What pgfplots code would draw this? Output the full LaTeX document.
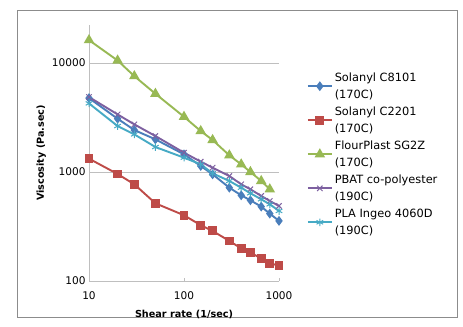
\documentclass[border=0pt]{standalone}
\usepackage{pgfplots}
\pgfplotsset{compat=1.18}
\usepackage{fontspec}
\setmainfont{DejaVu Sans}
\definecolor{cblue}{HTML}{4A7EBB}
\definecolor{cred}{HTML}{BE4B48}
\definecolor{cgreen}{HTML}{98B954}
\definecolor{cpurple}{HTML}{7D60A0}
\definecolor{ccyan}{HTML}{46AAC5}
\definecolor{cgrid}{HTML}{BFBFBF}
\begin{document}
\begin{tikzpicture}
\path[fill=white] (0,0) rectangle (463bp,327bp);
\draw[color=black!45, line width=0.6bp] (17bp,10bp) rectangle (457bp,317bp);
\begin{axis}[
  at={(89bp,46bp)}, anchor=south west,
  scale only axis, width=190bp, height=256bp,
  xmode=log, ymode=log,
  xmin=10, xmax=1000, ymin=100, ymax=22300,
  xtick={10,100,1000}, ytick={100,1000,10000},
  log ticks with fixed point,
  /pgf/number format/1000 sep={},
  /pgf/number format/assume math mode=true,
  minor tick style={draw=none},
  separate axis lines,
  axis x line*=bottom, axis y line*=left,
  axis line style={color=cgrid, line width=0.8bp},
  major tick length=3bp,
  tick style={color=cgrid, line width=0.8bp},
  ymajorgrids,
  major grid style={color=cgrid, line width=0.8bp},
  tick label style={font=\fontsize{10.6}{12}\selectfont},
  xticklabel style={yshift=-7bp},
  xlabel={\textbf{Shear rate (1/sec)}},
  ylabel={\textbf{Viscosity (Pa.sec)}},
  label style={font=\fontsize{9.7}{11}\selectfont},
  xlabel style={yshift=-4bp},
  ylabel style={yshift=-1bp},
  clip=false,
  legend style={draw=none, fill=none, at={(1.13,0.83)}, anchor=north west,
    font=\fontsize{11.4}{17}\selectfont, row sep=3bp,
    cells={anchor=west, align=left}},
  legend image code/.code={\draw[mark repeat=2,mark phase=2] plot coordinates {(0bp,0bp) (12bp,0bp) (24bp,0bp)};},
  every axis plot/.append style={line width=1.9bp},
]
\addplot[color=cblue, mark=diamond*, mark size=3.4bp, mark options={solid}] coordinates {
(10,4760) (20,3080) (30,2425) (50,1992) (100,1452) (150,1135) (200,952) (300,718) (400,611) (500,550) (650,481) (800,415) (1000,356)};
\addlegendentry{Solanyl C8101\\(170C)}
\addplot[color=cred, mark=square*, mark size=3.5bp] coordinates {
(10,1325) (20,958) (30,771) (50,516) (100,401) (150,325) (200,288) (300,233) (400,199) (500,182) (650,161) (800,146) (1000,138)};
\addlegendentry{Solanyl C2201\\(170C)}
\addplot[color=cgreen, mark=triangle*, mark size=4.2bp] coordinates {
(10,16200) (20,10540) (30,7570) (50,5220) (100,3210) (150,2375) (200,1965) (300,1422) (400,1175) (500,1000) (650,827) (800,694)};
\addlegendentry{FlourPlast SG2Z\\(170C)}
\addplot[color=cpurple, mark=x, mark size=3.8bp, mark options={line width=1bp}] coordinates {
(10,4870) (20,3375) (30,2733) (50,2137) (100,1503) (150,1244) (200,1096) (300,919) (400,771) (500,694) (650,603) (800,542) (1000,488)};
\addlegendentry{PBAT co-polyester\\(190C)}
\addplot[color=ccyan, mark=asterisk, mark size=3.8bp, mark options={line width=1bp}] coordinates {
(10,4256) (20,2638) (30,2213) (50,1694) (100,1353) (150,1176) (200,972) (300,827) (400,718) (500,638) (650,562) (800,505) (1000,439)};
\addlegendentry{PLA Ingeo 4060D\\(190C)}
\end{axis}
\end{tikzpicture}
\end{document}
